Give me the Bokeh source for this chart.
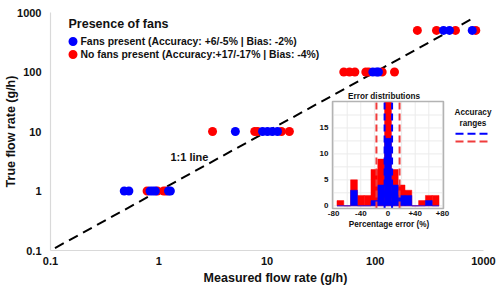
import math
from bokeh.plotting import figure
from bokeh.models import Range1d, LinearScale, FixedTicker, CustomJSTickFormatter
from bokeh.core.properties import value
from bokeh.embed import file_html
from bokeh.resources import INLINE

# ---------------- data ----------------
fans_measured = [0.48, 0.53, 0.83, 0.88, 0.93, 1.23, 1.28,
                 5.1, 9.1, 10.1, 11.2, 12.5,
                 95.0, 103.0, 107.0,
                 427.0, 485.0, 787.0]
fans_true = [1, 1, 1, 1, 1, 1, 1,
             10, 10, 10, 10, 10,
             100, 100, 100,
             500, 500, 500]

nofans_measured = [0.78, 0.97, 1.11, 1.17,
                   3.14, 7.7, 8.2, 13.6, 16.1,
                   51.2, 57.8, 64.8, 81.8, 87.1, 115.9, 150.6,
                   245.0, 368.0, 551.0, 849.0]
nofans_true = [1, 1, 1, 1,
               10, 10, 10, 10, 10,
               100, 100, 100, 100, 100, 100, 100,
               500, 500, 500, 500]

one_to_one = [0.11, 800.0]
axis_ticks = [0.1, 1, 10, 100, 1000]
axis_bounds = (0.1, 1000)

legend_title = "Presence of fans"
legend_labels = ["Fans present (Accuracy: +6/-5% | Bias: -2%)",
                 "No fans present (Accuracy:+17/-17% | Bias: -4%)"]

# error histogram (percentage error, 10 % bins)
err_bins = [-70, -60, -50, -40, -30, -20, -10, 0, 10, 20, 30, 40, 50, 60, 70]
nofans_counts = [1, 0, 5, 2, 2, 7, 9, 20, 7, 4, 3, 0, 1, 2, 2]
fans_counts = [0, 0, 3, 0, 0, 1, 4, 13, 4, 2, 2, 0, 0, 1, 0]
fans_accuracy = [-5, 6]
nofans_accuracy = [-17, 17]
inset_xticks = [-80, -40, 0, 40, 80]
inset_xlabels = ["-80", "-40", "0", "+40", "+80"]
inset_yticks = [0, 5, 10, 15]
inset_xgrid = [-80, -60, -40, -20, 0, 20, 40, 60, 80]
inset_ygrid = [0, 2.5, 5, 7.5, 10, 12.5, 15, 17.5]

BLUE = "#0000ff"
RED = "#ff0000"
RED_LINE = "#f03c3c"
FONT = value("Liberation Sans")

# ---------------- layout (page pixels; canvas sits at page origin) ----------------
OFF = 0
W, H = 500, 290
FL, FR, FT, FB = 50, 483, 12, 250          # data frame 0.1..1000 on page
CR = OFF + W                                # canvas right edge on page
IL, IR, IT, IB = 332, 443, 101, 208        # inset frame
IX0, IX1 = -81.6, 81.6                     # inset data limits
IY0, IY1 = -0.52, 20.1


def span(a0, a1, p0, p1, q0, q1):
    k = (a1 - a0) / (p1 - p0)
    return a0 + (q0 - p0) * k, a0 + (q1 - p0) * k


def logspan(a0, a1, p0, p1, q1):
    k = (math.log10(a1) - math.log10(a0)) / (p1 - p0)
    return 10 ** (math.log10(a0) + (q1 - p0) * k)


x_end = logspan(axis_bounds[0], axis_bounds[1], FL, FR, CR)
ixs, ixe = span(IX0, IX1, IL, IR, FL, CR)
iys, iye = span(IY0, IY1, IB, IT, FB, FT)

p = figure(width=W, height=H, x_axis_type="log", y_axis_type="log",
           x_range=Range1d(axis_bounds[0], x_end), y_range=Range1d(*axis_bounds),
           output_backend="svg", toolbar_location=None,
           min_border_left=FL - OFF, min_border_right=0,
           min_border_top=FT - OFF, min_border_bottom=H - (FB - OFF))
p.extra_x_ranges = {"gx": Range1d(FL, CR), "ix": Range1d(ixs, ixe)}
p.extra_y_ranges = {"gy": Range1d(FB, FT), "iy": Range1d(iys, iye)}
p.extra_x_scales = {"gx": LinearScale(), "ix": LinearScale()}
p.extra_y_scales = {"gy": LinearScale(), "iy": LinearScale()}

p.grid.visible = False
p.outline_line_color = None
p.background_fill_color = "white"
p.border_fill_color = "white"

for ax in (p.xaxis[0], p.yaxis[0]):
    ax.ticker = FixedTicker(ticks=axis_ticks)
    ax.formatter = CustomJSTickFormatter(code="return tick.toString()")
    ax.bounds = axis_bounds
    ax.major_tick_line_color = None
    ax.minor_tick_line_color = None
    ax.major_tick_out = 0
    ax.major_tick_in = 0
    ax.minor_tick_out = 0
    ax.minor_tick_in = 0
    ax.axis_line_color = "#d9d9d9"
    ax.axis_line_width = 1.2
    ax.major_label_text_font = "Liberation Sans"
    ax.major_label_text_font_style = "bold"
    ax.major_label_text_font_size = "11px"
    ax.major_label_text_color = "#111111"
    ax.axis_label_text_font = "Liberation Sans"
    ax.axis_label_text_font_style = "bold"
    ax.axis_label_text_font_size = "12.5px"
    ax.axis_label_text_color = "#111111"

p.xaxis.axis_label = "Measured flow rate (g/h)"
p.yaxis.axis_label = "True flow rate (g/h)"
p.xaxis.major_label_standoff = 6
p.xaxis.axis_label_standoff = 3
p.yaxis.major_label_standoff = 9
p.yaxis.axis_label_standoff = -4

# ---------------- main chart ----------------
p.line(one_to_one, one_to_one, line_color="black", line_width=2, line_dash="10 6")
p.scatter(nofans_measured, nofans_true, size=9, fill_color=RED, line_color=None)
p.scatter(fans_measured, fans_true, size=9, fill_color=BLUE, line_color=None)

p.text(x=[170], y=[156], text=["1:1 line"], x_range_name="gx", y_range_name="gy",
       text_font=FONT, text_font_style="bold", text_font_size="11px",
       text_align="left", text_baseline="middle", text_color="#111111")

# legend
p.text(x=[68], y=[23], text=[legend_title], x_range_name="gx", y_range_name="gy",
       text_font=FONT, text_font_style="bold", text_font_size="12.5px",
       text_align="left", text_baseline="middle", text_color="#111111")
p.scatter(x=[72.5, 72.5], y=[41, 54], size=9, fill_color=[BLUE, RED], line_color=None,
          x_range_name="gx", y_range_name="gy")
p.text(x=[80, 80], y=[41, 54], text=legend_labels, x_range_name="gx", y_range_name="gy",
       text_font=FONT, text_font_style="bold", text_font_size="10.4px",
       text_align="left", text_baseline="middle", text_color="#111111")

# ---------------- inset histogram ----------------
kw = dict(x_range_name="ix", y_range_name="iy")
p.quad(left=[IX0], right=[IX1], bottom=[IY0], top=[IY1], fill_color="white",
       line_color=None, **kw)
p.segment(x0=inset_xgrid, x1=inset_xgrid, y0=[IY0] * len(inset_xgrid),
          y1=[IY1] * len(inset_xgrid), line_color="#ebebeb", line_width=1, **kw)
p.segment(x0=[IX0] * len(inset_ygrid), x1=[IX1] * len(inset_ygrid), y0=inset_ygrid,
          y1=inset_ygrid, line_color="#ebebeb", line_width=1, **kw)
p.vbar(x=err_bins, top=nofans_counts, bottom=0, width=10, fill_color=RED,
       line_color=RED, line_width=0.5, **kw)
p.vbar(x=err_bins, top=fans_counts, bottom=0, width=10, fill_color=BLUE,
       line_color=BLUE, line_width=0.5, **kw)
p.segment(x0=nofans_accuracy, x1=nofans_accuracy, y0=[IY0, IY0], y1=[IY1, IY1],
          line_color=RED_LINE, line_width=2, line_dash="7 4", **kw)
p.segment(x0=fans_accuracy, x1=fans_accuracy, y0=[IY0, IY0], y1=[IY1, IY1],
          line_color=BLUE, line_width=2, line_dash="7 4", **kw)
p.quad(left=[IX0], right=[IX1], bottom=[IY0], top=[IY1], fill_color=None,
       line_color="#b3b3b3", line_width=1.5, **kw)

p.text(x=[IX0] * len(inset_yticks), y=inset_yticks, text=[str(t) for t in inset_yticks],
       x_offset=-4, text_font=FONT, text_font_style="bold", text_font_size="8px",
       text_align="right", text_baseline="middle", text_color="#111111", **kw)
p.text(x=inset_xticks, y=[IY0] * len(inset_xticks), text=inset_xlabels, y_offset=2,
       text_font=FONT, text_font_style="bold", text_font_size="8px",
       text_align="center", text_baseline="top", text_color="#111111", **kw)

p.text(x=[383.5], y=[95.5], text=["Error distributions"], x_range_name="gx", y_range_name="gy",
       text_font=FONT, text_font_style="bold", text_font_size="8.2px",
       text_align="center", text_baseline="middle", text_color="#111111")
p.text(x=[388.5], y=[224], text=["Percentage error (%)"], x_range_name="gx", y_range_name="gy",
       text_font=FONT, text_font_style="bold", text_font_size="8.2px",
       text_align="center", text_baseline="middle", text_color="#111111")

# accuracy ranges key
p.text(x=[472.5, 472.5], y=[112, 122.5], text=["Accuracy", "ranges"], x_range_name="gx",
       y_range_name="gy", text_font=FONT, text_font_style="bold", text_font_size="8.2px",
       text_align="center", text_baseline="middle", text_color="#111111")
p.segment(x0=[455, 455], x1=[491, 491], y0=[133.3, 141], y1=[133.3, 141],
          line_color=[BLUE, RED_LINE], line_width=2, line_dash="8 4",
          x_range_name="gx", y_range_name="gy")

open("out.html", "w").write(file_html(p, INLINE))
